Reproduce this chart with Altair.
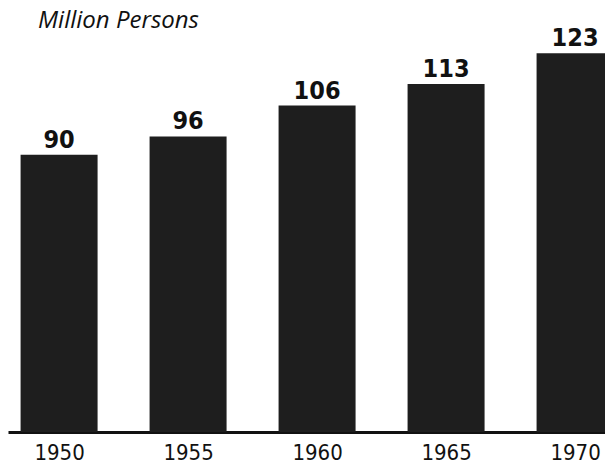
import altair as alt
import pandas as pd

years = [1950, 1955, 1960, 1965, 1970]
values = [90, 96, 106, 113, 123]

df = pd.DataFrame({"year": years, "value": values})

FONT = "'DejaVu Sans Condensed', Roboto, sans-serif"

xscale = alt.Scale(domain=[1948.02, 1971.16], nice=False, zero=False, padding=0)
yscale = alt.Scale(domain=[0, 127.3], nice=False, padding=0)

base = alt.Chart(df).encode(
    x=alt.X("year:Q", scale=xscale,
            axis=alt.Axis(values=years, format="d", title=None, grid=False,
                          ticks=False, domainColor="#111", domainWidth=3,
                          labelFont=FONT, labelFontSize=22,
                          labelColor="#111", labelPadding=10, labelFlush=False)),
    y=alt.Y("value:Q", scale=yscale, axis=None),
)

bars = base.mark_bar(width=77, color="#1e1e1e", clip=True)
labels = base.mark_text(baseline="alphabetic", dy=-7, font=FONT,
                        fontWeight="bold", fontSize=25, color="#111").encode(
    text=alt.Text("value:Q"))

chart = (bars + labels).properties(
    width=597, height=392,
    title=alt.TitleParams("Million Persons", anchor="start",
                          dx=30, offset=-7,
                          font="Open Sans", fontStyle="italic", fontWeight="normal",
                          fontSize=24, color="#111"),
    autosize=alt.AutoSizeParams(type="none"),
    padding={"left": 0, "top": 32, "right": 0, "bottom": 31},
).configure_view(stroke=None)

chart.save("out.html", embed_options={"renderer": "svg", "actions": False})
